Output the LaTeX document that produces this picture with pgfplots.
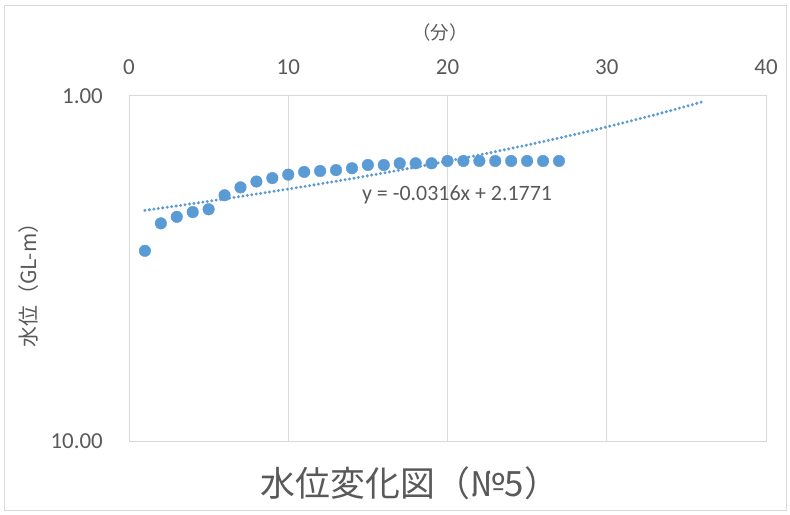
\documentclass[border=0pt]{standalone}
\usepackage{pgfplots}
\pgfplotsset{compat=1.18}
\usepackage{fontspec}
\setmainfont{Carlito}
\newfontfamily\jp{Noto Sans CJK JP}
\definecolor{txt}{HTML}{595959}
\definecolor{grd}{HTML}{D9D9D9}
\definecolor{blu}{HTML}{5B9BD5}
\begin{document}
\begin{tikzpicture}[x=1bp,y=1bp]
\useasboundingbox (0,0) rectangle (790,515);
\draw[grd,line width=1bp] (4,4) rectangle (786,509);
\begin{axis}[
  at={(129bp,74bp)}, anchor=south west,
  scale only axis, width=637bp, height=345bp,
  xmin=0, xmax=40, ymin=1, ymax=10,
  ymode=log, y dir=reverse,
  xtick={0,10,20,30,40}, xticklabels={},
  ytick={1,10}, yticklabels={},
  minor tick num=0, log basis y=10,
  yminorticks=false,
  major tick length=0pt,
  axis line style={grd,line width=1bp},
  xmajorgrids, grid style={grd,line width=1bp},
  clip=false,
]
\addplot[blu, line width=3.3bp, line cap=round, dash pattern=on 0bp off 4.5bp] coordinates {
(1,2.1455)(2,2.1139)(3,2.0823)(4,2.0507)(5,2.0191)(6,1.9875)(7,1.9559)(8,1.9243)(9,1.8927)(10,1.8611)
(11,1.8295)(12,1.7979)(13,1.7663)(14,1.7347)(15,1.7031)(16,1.6715)(17,1.6399)(18,1.6083)(19,1.5767)(20,1.5451)
(21,1.5135)(22,1.4819)(23,1.4503)(24,1.4187)(25,1.3871)(26,1.3555)(27,1.3239)(28,1.2923)(29,1.2607)(30,1.2291)
(31,1.1975)(32,1.1659)(33,1.1343)(34,1.1027)(35,1.0711)(36,1.0395)};
\addplot[only marks, mark=*, mark size=5.8bp, blu, mark options={draw=blu,fill=blu}] coordinates {
(1,2.81)(2,2.34)(3,2.24)(4,2.17)(5,2.13)(6,1.94)(7,1.84)(8,1.77)(9,1.73)(10,1.69)
(11,1.66)(12,1.65)(13,1.64)(14,1.62)(15,1.585)(16,1.585)(17,1.567)(18,1.567)(19,1.567)(20,1.543)
(21,1.543)(22,1.543)(23,1.543)(24,1.543)(25,1.543)(26,1.543)(27,1.543)};
\node[txt, font=\fontsize{22}{26}\selectfont] at (axis cs:20.6,1.936) {y = -0.0316x + 2.1771};
% tick labels
\node[txt, inner sep=0pt, anchor=center, yshift=29bp, font=\fontsize{23}{27}\selectfont] at (axis cs:0,1) {0};
\node[txt, inner sep=0pt, anchor=center, yshift=29bp, font=\fontsize{23}{27}\selectfont] at (axis cs:10,1) {10};
\node[txt, inner sep=0pt, anchor=center, yshift=29bp, font=\fontsize{23}{27}\selectfont] at (axis cs:20,1) {20};
\node[txt, inner sep=0pt, anchor=center, yshift=29bp, font=\fontsize{23}{27}\selectfont] at (axis cs:30,1) {30};
\node[txt, inner sep=0pt, anchor=center, yshift=29bp, font=\fontsize{23}{27}\selectfont] at (axis cs:40,1) {40};
\node[txt, inner sep=0pt, anchor=east, xshift=-26bp, font=\fontsize{23}{27}\selectfont] at (axis cs:0,1) {1.00};
\node[txt, inner sep=0pt, anchor=east, xshift=-26bp, font=\fontsize{23}{27}\selectfont] at (axis cs:0,10) {10.00};
% axis titles
\node[txt, inner sep=0pt, font=\jp\fontsize{18.5}{22}\selectfont] at (axis description cs:0.488,1.183) {（分）};
\node[txt, inner sep=0pt, rotate=90, font=\jp\fontsize{21}{25}\selectfont] at (axis description cs:-0.157,0.467) {水位（GL-m）};
\node[txt, inner sep=0pt, font=\jp\fontsize{35}{40}\selectfont] at (axis description cs:0.441,-0.122) {水位変化図（№5）};
\end{axis}
\end{tikzpicture}
\end{document}
